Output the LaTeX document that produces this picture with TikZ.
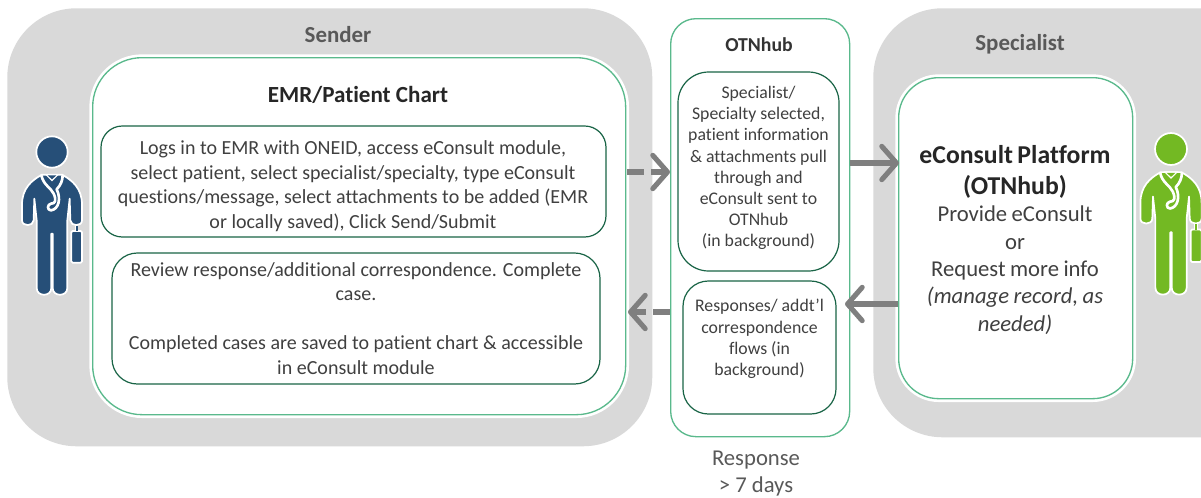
\documentclass[tikz,border=0pt]{standalone}
\usepackage{fontspec}
\setmainfont{Carlito}[Ligatures=CommonOff]
\usetikzlibrary{arrows.meta}
\definecolor{panelgrey}{RGB}{217,217,217}
\definecolor{lightgreen}{RGB}{90,185,140}
\definecolor{darkgreen}{RGB}{25,100,70}
\definecolor{arrowgrey}{RGB}{127,127,127}
\definecolor{bodytext}{RGB}{64,64,64}
\definecolor{titletext}{RGB}{89,89,89}
\definecolor{docblue}{RGB}{38,79,120}
\definecolor{docgreen}{RGB}{115,185,35}
\newcommand{\fs}[2]{\fontsize{#1}{#2}\selectfont}
\tikzset{
  x=0.75pt,y=-0.75pt,
  panel/.style={fill=panelgrey,draw=none,rounded corners=52pt,anchor=north west,inner sep=0pt},
  outerbox/.style={fill=white,draw=lightgreen,line width=1pt,anchor=north west,inner sep=0pt,align=center,text=bodytext},
  innerbox/.style={fill=white,draw=darkgreen,line width=0.9pt,anchor=center,inner sep=0pt,align=center,text=bodytext},
  heading/.style={font=\bfseries,text=titletext,inner sep=0pt,align=center},
  flow/.style={draw=arrowgrey,line width=3.8pt,-{Straight Barb[length=11pt,width=25pt,line width=3.8pt,round]}},
  flowdash/.style={flow,dash pattern=on 13pt off 5pt},
}
\newcommand{\person}[4]{% x, y (head centre), scale, colour
\begin{scope}[shift={(#1,#2)},x=0.25pt*#3,y=-0.25pt*#3]
  \fill[#4,draw=white,line width=1.3pt,line join=round]
    (-30,68) .. controls (-62,85) and (-90,110) .. (-90,158)
    -- (-90,205) .. controls (-90,224) and (-56,224) .. (-55,205)
    -- (-53,140) -- (-46,205) -- (-46,408)
    .. controls (-46,435) and (-2,435) .. (-2,408) -- (-2,245) -- (2,245) -- (2,408)
    .. controls (2,435) and (46,435) .. (46,408)
    -- (46,205) -- (53,140) -- (55,205)
    .. controls (56,224) and (90,224) .. (90,205) -- (90,158)
    .. controls (90,110) and (62,85) .. (30,68) -- cycle;
  \fill[#4,draw=white,line width=1.3pt] (0,0) circle (47);
  \draw[white,line width=2pt,line cap=round,line join=round]
    (-32,70) .. controls (-25,100) and (-5,105) .. (5,125)
    .. controls (14,145) and (10,155) .. (-3,155)
    .. controls (-15,157) and (-15,175) .. (-3,175)
    .. controls (20,172) and (28,140) .. (14,112)
    .. controls (26,100) and (32,85) .. (32,70);
  \fill[white] (-22,66) -- (0,88) -- (22,66) -- cycle;
  \fill[#4] (-13,70) -- (0,82) -- (13,70) -- cycle;
  \fill[#4,draw=white,line width=1.3pt,rounded corners=1pt] (58,237) rectangle (90,332);
  \draw[white,line width=2.6pt] (74,222) -- (74,237);
  \draw[#4,line width=1.3pt] (74,222) -- (74,237);
\end{scope}}
\begin{document}
\begin{tikzpicture}
\useasboundingbox[fill=white] (0,0) rectangle (1201,497);
\begin{scope}
\clip (0,0) rectangle (1201,497);
% grey panels
\node[panel,minimum width=483.75pt,minimum height=328.5pt] (sender) at (7,8) {};
\node[panel,minimum width=300pt,minimum height=321.75pt] (specialist) at (873,8) {};
\node[heading,font=\bfseries\fs{17.2}{21}] (sendert) at (338,35) {Sender};
\node[heading,font=\bfseries\fs{17.2}{21}] (spect) at (1020,44) {Specialist};
% white halos and outer boxes
\node[outerbox,rounded corners=37pt,minimum width=399.75pt,minimum height=267.75pt,preaction={draw=white,line width=5pt}] (emr) at (92,57) {};
\node[heading,text=black!85,font=\bfseries\fs{17.3}{21}] (emrt) at (358,95) {EMR/Patient Chart};
\node[outerbox,rounded corners=19pt,minimum width=134.25pt,minimum height=313.5pt,preaction={draw=white,line width=5pt}] (otn) at (670,18) {};
\node[heading,text=black!80,font=\bfseries\fs{14.8}{18}] (otnt) at (759,45) {OTNhub};
\node[outerbox,rounded corners=30pt,minimum width=175.5pt,minimum height=240.75pt,preaction={draw=white,line width=5pt}] (plat) at (898,77) {};
% inner boxes
\node[innerbox,rounded corners=16pt,minimum width=378.75pt,minimum height=83.25pt] (log) at (353.5,181.5) {};
\node[inner sep=0pt,align=center,text=bodytext,font=\fs{15}{18.5}] (logt) at (353,186)
 {Logs in to EMR with ONEID, access eConsult module,\\select patient, select specialist/specialty, type eConsult\\questions/message, select attachments to be added (EMR\\or locally saved), Click Send/Submit};
\node[innerbox,rounded corners=19pt,minimum width=366pt,minimum height=98.25pt,font=\fs{15}{18.4}] (rev) at (356,318.5)
 {Review response/additional correspondence. Complete\\case.\\[\baselineskip]Completed cases are saved to patient chart \& accessible\\in eConsult module};
\node[innerbox,rounded corners=23pt,minimum width=120.75pt,minimum height=149.25pt,font=\fs{13.3}{15.9},text=bodytext] (pull) at (758.5,171.5)
 {Specialist/\\Specialty selected,\\patient information\\\& attachments pull\\through and\\eConsult sent to\\OTNhub\\(in background)\\[-8.4pt]\mbox{}};
\node[innerbox,rounded corners=19pt,minimum width=114.75pt,minimum height=99.75pt,font=\fs{13.3}{15.9}] (resp) at (759.5,347.5)
 {Responses/ addt’l\\correspondence\\flows (in\\background)\\[-0.9pt]\mbox{}};
% platform text
\node[inner sep=0pt,align=center,text width=172pt,text=bodytext,anchor=center] (platt) at (1015,240)
 {{\bfseries\fontsize{19.3}{23}\selectfont\color{black!85} eConsult Platform\\(OTNhub)\par}
  {\fontsize{17}{20.5}\selectfont Provide eConsult\\or\\Request more info\\\itshape (manage record, as\\needed)\par}};
% response label
\node[inner sep=0pt,align=center,text=titletext,font=\fs{17}{20}] (late) at (756,473.5) {Response\\> 7 days};
% connector end points
\coordinate (a1) at (627,172);
\coordinate (a2) at (899,163);
\coordinate (a3) at (845,304);
\coordinate (a4) at (628,312);
\draw[flowdash] (a1) -- (otn.west |- a1);
\draw[flow] (otn.east |- a2) -- (a2);
\draw[flow] (plat.west |- a3) -- (a3);
\draw[flowdash] (otn.west |- a4) -- (a4);
% people
\person{52}{152}{1}{docblue}
\person{1171}{149}{1.02}{docgreen}
\end{scope}
\end{tikzpicture}
\end{document}
